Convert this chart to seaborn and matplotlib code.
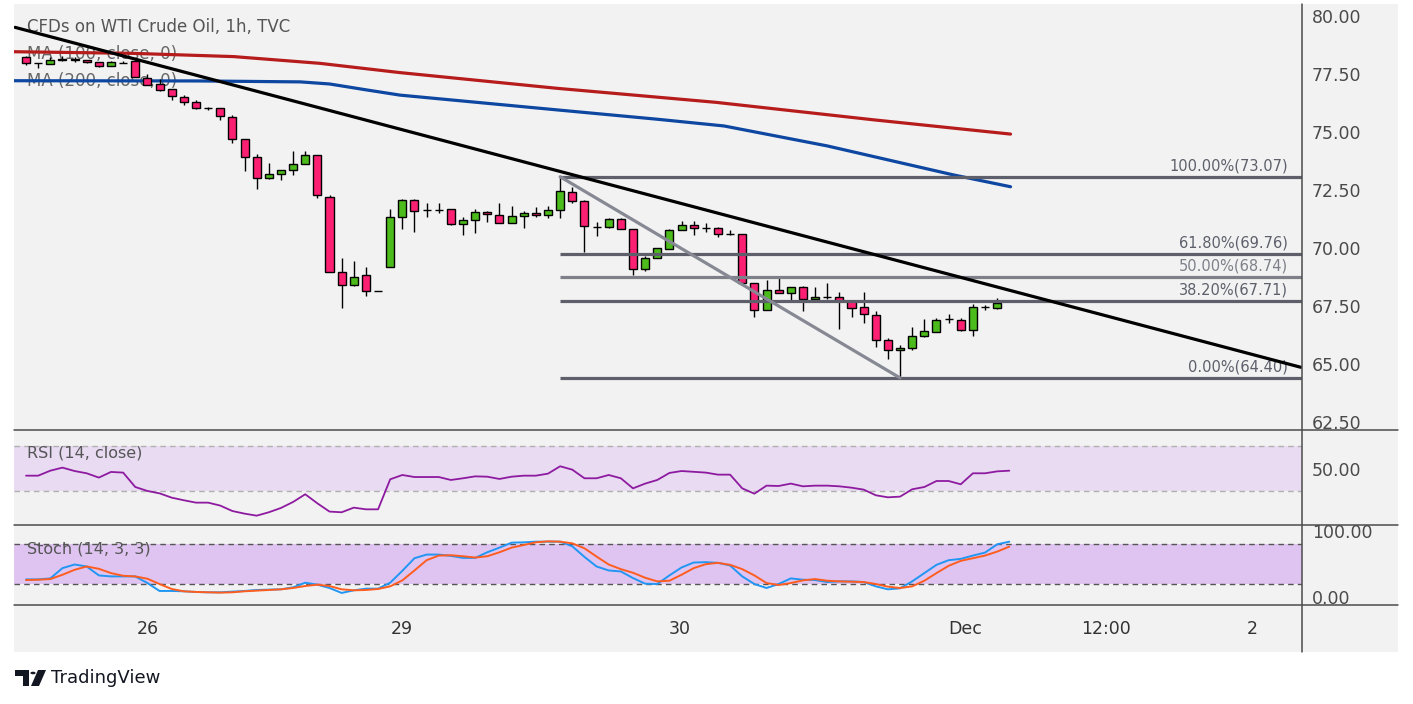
import matplotlib
matplotlib.use("Agg")
import matplotlib.pyplot as plt
import seaborn as sns
import numpy as np
from matplotlib.patches import Rectangle, Polygon, Circle
from matplotlib.lines import Line2D

# ---- data (WTI 1h candles) ----
opens = [78.22, 77.97, 77.92, 78.09, 78.16, 78.09, 78.00, 77.84, 77.99, 78.05,
         77.34, 77.06, 76.84, 76.52, 76.28, 76.02, 76.02, 75.66, 74.69, 73.91,
         73.00, 73.18, 73.35, 73.61, 74.00, 72.21, 68.98, 68.41, 68.82, 68.15,
         69.17, 71.32, 72.06, 71.65, 71.65, 71.67, 71.02, 71.19, 71.54, 71.41,
         71.06, 71.37, 71.50, 71.41, 71.63, 72.40, 72.01, 70.89, 70.89, 71.24,
         70.81, 69.08, 69.56, 69.94, 70.76, 70.98, 70.85, 70.85, 70.59, 70.59,
         68.48, 67.31, 68.18, 68.05, 68.31, 67.79, 67.88, 67.88, 67.70, 67.44,
         67.10, 66.02, 65.59, 65.68, 66.19, 66.37, 66.93, 66.88, 66.45, 67.44,
         67.40]
closes = [77.96, 77.97, 78.09, 78.15, 78.09, 78.02, 77.84, 78.00, 77.99, 77.37,
          77.01, 76.81, 76.54, 76.28, 76.02, 76.02, 75.69, 74.69, 73.91, 73.00,
          73.18, 73.35, 73.61, 74.00, 72.27, 68.98, 68.41, 68.75, 68.15, 68.15,
          71.32, 72.06, 71.61, 71.65, 71.65, 71.02, 71.19, 71.54, 71.45, 71.06,
          71.37, 71.50, 71.41, 71.63, 72.44, 72.01, 70.94, 70.89, 71.24, 70.81,
          69.08, 69.56, 69.99, 70.76, 70.98, 70.85, 70.85, 70.59, 70.59, 68.48,
          67.31, 68.18, 68.05, 68.31, 67.79, 67.88, 67.88, 67.70, 67.40, 67.14,
          66.02, 65.59, 65.68, 66.19, 66.41, 66.88, 66.93, 66.45, 67.44, 67.44,
          67.64]
highs = [78.28, 77.97, 78.25, 78.28, 78.25, 78.10, 78.03, 78.07, 78.07, 78.10,
         77.50, 77.27, 76.84, 76.61, 76.38, 76.09, 76.02, 75.72, 74.69, 74.05,
         73.65, 73.36, 74.18, 74.18, 74.00, 72.27, 69.58, 69.44, 69.18, 68.15,
         71.68, 72.11, 72.11, 71.93, 71.93, 71.67, 71.32, 71.67, 71.59, 71.95,
         71.81, 71.58, 71.77, 71.81, 73.07, 72.64, 72.06, 71.11, 71.28, 71.28,
         70.81, 69.66, 69.99, 70.81, 71.15, 71.15, 71.06, 70.89, 70.76, 70.59,
         68.48, 68.62, 68.78, 68.31, 68.35, 68.31, 68.48, 68.09, 67.76, 68.09,
         67.27, 66.11, 65.81, 66.58, 66.93, 66.97, 67.14, 66.97, 67.59, 67.53,
         67.83]
lows = [77.89, 77.76, 77.92, 78.06, 78.03, 77.97, 77.79, 77.84, 77.96, 77.35,
        77.01, 76.78, 76.38, 76.18, 75.98, 75.94, 75.52, 74.54, 73.33, 72.56,
        72.97, 72.93, 73.15, 73.61, 72.16, 68.97, 67.40, 68.36, 67.94, 68.15,
        69.17, 70.81, 70.70, 71.35, 71.52, 70.98, 70.57, 70.66, 71.13, 71.06,
        71.06, 70.88, 71.34, 71.28, 71.31, 71.93, 69.84, 70.53, 70.85, 70.81,
        68.82, 69.00, 69.56, 69.94, 70.76, 70.55, 70.68, 70.46, 70.55, 68.48,
        67.04, 67.31, 68.05, 67.75, 67.30, 67.79, 67.79, 66.50, 67.01, 66.75,
        65.72, 65.20, 64.40, 65.62, 66.15, 66.37, 66.75, 66.41, 66.19, 67.31,
        67.37]

ma100_idx = [-0.99, 8.8, 17.1, 24.2, 30.8, 43.8, 56.8, 69.9, 81.1]
ma100_val = [78.46, 78.39, 78.25, 77.96, 77.56, 76.88, 76.28, 75.52, 74.91]
ma200_idx = [-0.99, 14.3, 22.6, 25.0, 28.1, 30.8, 43.8, 52.0, 57.5, 66.0, 76.4, 81.1]
ma200_val = [77.21, 77.20, 77.16, 77.07, 76.81, 76.59, 75.95, 75.55, 75.26, 74.40, 73.15, 72.64]

rsi = [43.8, 43.8, 48.2, 50.9, 47.9, 45.9, 42.1, 47.1, 46.5, 33.8,
       30.3, 28.2, 24.4, 22.1, 20.0, 20.0, 17.4, 12.6, 10.3, 8.5,
       11.5, 15.3, 20.6, 27.4, 19.4, 12.1, 11.5, 15.6, 14.1, 14.1,
       40.6, 44.4, 42.6, 42.6, 42.6, 40.0, 41.5, 43.2, 42.9, 40.9,
       42.9, 43.8, 43.8, 45.6, 52.1, 49.1, 41.5, 41.5, 44.4, 41.5,
       32.6, 36.8, 40.0, 46.2, 47.9, 47.2, 46.5, 44.7, 44.7, 32.6,
       27.9, 35.0, 34.7, 36.8, 34.4, 35.0, 35.0, 34.4, 33.2, 31.5,
       26.5, 24.7, 25.3, 31.8, 33.8, 39.1, 39.1, 36.2, 45.9, 45.9,
       47.6, 48.2]
stoch_k = [27, 27, 28.5, 44, 49.5, 46.5, 33, 31.5, 31.5, 31.5,
           21.5, 9.5, 9.5, 9, 8, 7.5, 7.5, 8.5, 9.5, 11,
           11.5, 12, 15, 22, 19, 14, 6.5, 10.5, 13, 13,
           22, 40, 59, 64.5, 64.5, 62.5, 59.5, 59.5, 68, 75,
           82.5, 83, 84, 84, 84, 77, 61, 46.5, 40.5, 39,
           29, 20.5, 20, 33, 45, 52.5, 53, 52, 48, 31.5,
           20, 14, 20, 28.5, 26.5, 26, 23, 24, 24, 23,
           16.5, 12, 13.5, 24, 36.5, 49, 56, 58, 63, 67.5,
           80, 84]
stoch_d = [26, 26.5, 27.5, 34, 41.5, 46.5, 43, 36.5, 32.5, 31.5,
           28, 20, 12.5, 9, 8, 7.5, 7, 7.5, 9, 10,
           11, 12, 14, 17, 19, 17, 12, 10.5, 11, 12.5,
           16.5, 25.5, 40.5, 56, 63, 63.5, 62, 60, 62, 68,
           75, 79, 83, 84.5, 84, 81.5, 74, 61.5, 49.5, 42.5,
           37, 29.5, 24, 25, 34, 44, 50, 52, 49, 42.5,
           33, 21.5, 18.5, 21.5, 25.5, 27.5, 25, 24, 23.5, 23,
           20, 16, 14, 16.5, 25, 36.5, 47.5, 55, 59, 63,
           69, 76.5]

fib_levels = [73.07, 69.76, 68.74, 67.71, 64.40]
fib_labels = ["100.00%(73.07)", "61.80%(69.76)", "50.00%(68.74)", "38.20%(67.71)", "0.00%(64.40)"]
fib_start = 44
swing_idx = [44, 72]
swing_val = [73.07, 64.40]
trend_idx = [-0.9, 105.0]
trend_val = [79.51, 64.86]

xtick_pos = [10.05, 30.97, 53.87, 77.4, 89.0, 101.0]
xtick_lab = ["26", "29", "30", "Dec", "12:00", "2"]
price_ticks = [62.5, 65.0, 67.5, 70.0, 72.5, 75.0, 77.5, 80.0]

# ---- style ----
sns.set_theme(style="white")
plt.rcParams['font.family'] = ['DejaVu Sans']

W, H = 1413, 704
fig = plt.figure(figsize=(W / 100, H / 100), dpi=100)
fig.patch.set_facecolor("white")


def fx(x):
    return x / W


def fy(y):
    return 1 - y / H


fig.patches.append(Rectangle((fx(14), fy(652)), fx(1398) - fx(14), fy(4) - fy(652),
                             transform=fig.transFigure, facecolor="#f2f2f2",
                             edgecolor="none", zorder=-10))

L, R = fx(14), fx(1302)
ax = fig.add_axes([L, fy(430), R - L, fy(4) - fy(430)])
ax_rsi = fig.add_axes([L, fy(525), R - L, fy(430) - fy(525)], sharex=ax)
ax_st = fig.add_axes([L, fy(605), R - L, fy(525) - fy(605)], sharex=ax)

for a in (ax, ax_rsi, ax_st):
    a.set_facecolor("none")
    for s in a.spines.values():
        s.set_visible(False)
    a.yaxis.tick_right()
    a.tick_params(axis="y", length=0, pad=7, labelsize=12.5, labelcolor="#4a4a4a")
    a.tick_params(axis="x", length=0)
    a.grid(False)
    a.set_xlabel("")
    a.set_ylabel("")

ax.set_xlim(-0.99, 105.11)
ax.set_ylim(62.155, 80.517)
ax_rsi.set_ylim(0.27, 84.1)
ax_st.set_ylim(-11.7, 109.2)

# ---- candles ----
idx = np.arange(len(opens))
o = np.array(opens); c = np.array(closes)
cols = np.where(c > o, "#4cbb1c", np.where(c < o, "#fc2073", "black"))
ax.vlines(idx, lows, highs, color="black", lw=1.0, zorder=3)
ax.bar(idx, np.abs(c - o), bottom=np.minimum(o, c), width=0.66, color=cols,
       edgecolor="black", linewidth=1.0, zorder=4)

# ---- moving averages ----
sns.lineplot(x=ma100_idx, y=ma100_val, ax=ax, color="#b71c1c", lw=2.3, zorder=2)
sns.lineplot(x=ma200_idx, y=ma200_val, ax=ax, color="#0d47a1", lw=2.3, zorder=2)

# ---- drawings: fib, swing line, trendline ----
for lev, lab in zip(fib_levels, fib_labels):
    col = "#7d8089" if lab.startswith("50") else "#5d606b"
    ax.hlines(lev, fib_start, 105.11, color=col, lw=2.3, zorder=5)
    ax.annotate(lab, xy=(103.95, lev), xytext=(0, 2.5), textcoords="offset points",
                ha="right", va="bottom", fontsize=10.5, color=col, zorder=6)
sns.lineplot(x=swing_idx, y=swing_val, ax=ax, color="#868993", lw=2.3, zorder=5)
sns.lineplot(x=trend_idx, y=trend_val, ax=ax, color="black", lw=2.3, zorder=6)

ax.set_yticks(price_ticks)
ax.set_yticklabels([f"{v:.2f}" for v in price_ticks])
ax.tick_params(axis="x", labelbottom=False)

# legend-like labels in main pane
ax.text(fx(27), fy(27), "CFDs on WTI Crude Oil, 1h, TVC", transform=fig.transFigure,
        va="center", ha="left", fontsize=12, color="#555555", zorder=1)
ax.text(fx(27), fy(54), "MA (100, close, 0)", transform=fig.transFigure,
        va="center", ha="left", fontsize=12, color="#666666", zorder=1)
ax.text(fx(27), fy(81), "MA (200, close, 0)", transform=fig.transFigure,
        va="center", ha="left", fontsize=12, color="#666666", zorder=1)

# ---- RSI ----
ax_rsi.axhspan(30, 70, color="#e8dbf2", lw=0, zorder=0)
ax_rsi.axhline(70, color="#b0b0b0", lw=1.0, ls=(0, (4, 3)), zorder=1)
ax_rsi.axhline(30, color="#b0b0b0", lw=1.0, ls=(0, (4, 3)), zorder=1)
sns.lineplot(x=np.arange(len(rsi)), y=rsi, ax=ax_rsi, color="#8e1aa0", lw=1.3, zorder=3)
ax_rsi.set_yticks([50])
ax_rsi.set_yticklabels(["50.00"])
ax_rsi.tick_params(axis="x", labelbottom=False)
ax_rsi.text(fx(27), fy(453), "RSI (14, close)", transform=fig.transFigure,
            va="center", ha="left", fontsize=11.5, color="#555555")

# ---- Stoch ----
ax_st.axhspan(20, 80, color="#dfc4f1", lw=0, zorder=0)
ax_st.axhline(80, color="#555555", lw=1.0, ls=(0, (4, 3)), zorder=1)
ax_st.axhline(20, color="#555555", lw=1.0, ls=(0, (4, 3)), zorder=1)
sns.lineplot(x=np.arange(len(stoch_k)), y=stoch_k, ax=ax_st, color="#2196f3", lw=1.4, zorder=3)
sns.lineplot(x=np.arange(len(stoch_d)), y=stoch_d, ax=ax_st, color="#ff5d1f", lw=1.4, zorder=4)
ax_st.set_yticks([0, 100])
ax_st.set_yticklabels(["0.00", "100.00"])
ax_st.set_xticks(xtick_pos)
ax_st.set_xticklabels(xtick_lab)
ax_st.tick_params(axis="x", length=0, pad=11, labelsize=12.5, labelcolor="#333333")
ax_st.text(fx(27), fy(549), "Stoch (14, 3, 3)", transform=fig.transFigure,
           va="center", ha="left", fontsize=11.5, color="#555555")

for a in (ax, ax_rsi, ax_st):
    a.set_xlabel("")
    a.set_ylabel("")

# ---- pane separators ----
for yy in (430, 525, 605):
    fig.add_artist(Line2D([fx(14), fx(1398)], [fy(yy)] * 2, transform=fig.transFigure,
                          color="#4c4c4c", lw=1.1))
fig.add_artist(Line2D([fx(1302)] * 2, [fy(4), fy(652)], transform=fig.transFigure,
                      color="#4c4c4c", lw=1.1))

# ---- TradingView logo ----
def pts(p):
    return [(fx(x), fy(y)) for x, y in p]


fig.add_artist(Polygon(pts([(15, 670), (29, 670), (29, 686), (23, 686), (23, 676), (15, 676)]),
                       closed=True, transform=fig.transFigure, facecolor="#131722", edgecolor="none"))
fig.add_artist(Circle((fx(33), fy(673)), 2.6 / W, transform=fig.transFigure,
                      facecolor="#131722", edgecolor="none"))
fig.add_artist(Polygon(pts([(38, 670), (46, 670), (39, 686), (31, 686)]),
                       closed=True, transform=fig.transFigure, facecolor="#131722", edgecolor="none"))
fig.text(fx(51), fy(678), "TradingView", va="center", ha="left", fontsize=13, color="#131722")

fig.savefig("out.png", dpi=100, facecolor=fig.get_facecolor())
